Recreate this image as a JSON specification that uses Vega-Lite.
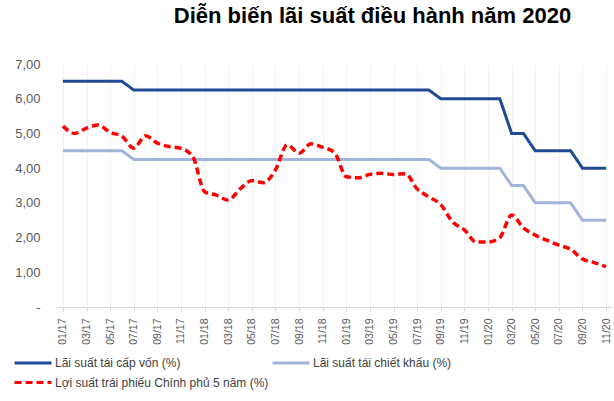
{
  "$schema": "https://vega.github.io/schema/vega-lite/v6.json",
  "autosize": {"type": "none"},
  "padding": {"left": 57, "top": 64, "right": 2, "bottom": 94},
  "width": 555,
  "height": 243,
  "background": "white",
  "config": {
    "font": "Liberation Sans",
    "view": {"stroke": null}
  },
  "title": {
    "text": "Diễn biến lãi suất điều hành năm 2020",
    "font": "Liberation Sans",
    "fontSize": 22,
    "fontWeight": "bold",
    "color": "#000000",
    "anchor": "middle",
    "dx": 38,
    "offset": 30
  },
  "data": {
    "values": [
      {"m": "01/17", "Lãi suất tái cấp vốn (%)": 6.5, "Lãi suất tái chiết khấu (%)": 4.5, "Lợi suất trái phiếu Chính phủ 5 năm (%)": 5.21},
      {"m": "02/17", "Lãi suất tái cấp vốn (%)": 6.5, "Lãi suất tái chiết khấu (%)": 4.5, "Lợi suất trái phiếu Chính phủ 5 năm (%)": 5.0},
      {"m": "03/17", "Lãi suất tái cấp vốn (%)": 6.5, "Lãi suất tái chiết khấu (%)": 4.5, "Lợi suất trái phiếu Chính phủ 5 năm (%)": 5.15},
      {"m": "04/17", "Lãi suất tái cấp vốn (%)": 6.5, "Lãi suất tái chiết khấu (%)": 4.5, "Lợi suất trái phiếu Chính phủ 5 năm (%)": 5.24},
      {"m": "05/17", "Lãi suất tái cấp vốn (%)": 6.5, "Lãi suất tái chiết khấu (%)": 4.5, "Lợi suất trái phiếu Chính phủ 5 năm (%)": 5.03},
      {"m": "06/17", "Lãi suất tái cấp vốn (%)": 6.5, "Lãi suất tái chiết khấu (%)": 4.5, "Lợi suất trái phiếu Chính phủ 5 năm (%)": 4.92},
      {"m": "07/17", "Lãi suất tái cấp vốn (%)": 6.25, "Lãi suất tái chiết khấu (%)": 4.25, "Lợi suất trái phiếu Chính phủ 5 năm (%)": 4.58},
      {"m": "08/17", "Lãi suất tái cấp vốn (%)": 6.25, "Lãi suất tái chiết khấu (%)": 4.25, "Lợi suất trái phiếu Chính phủ 5 năm (%)": 4.93},
      {"m": "09/17", "Lãi suất tái cấp vốn (%)": 6.25, "Lãi suất tái chiết khấu (%)": 4.25, "Lợi suất trái phiếu Chính phủ 5 năm (%)": 4.72},
      {"m": "10/17", "Lãi suất tái cấp vốn (%)": 6.25, "Lãi suất tái chiết khấu (%)": 4.25, "Lợi suất trái phiếu Chính phủ 5 năm (%)": 4.62},
      {"m": "11/17", "Lãi suất tái cấp vốn (%)": 6.25, "Lãi suất tái chiết khấu (%)": 4.25, "Lợi suất trái phiếu Chính phủ 5 năm (%)": 4.57},
      {"m": "12/17", "Lãi suất tái cấp vốn (%)": 6.25, "Lãi suất tái chiết khấu (%)": 4.25, "Lợi suất trái phiếu Chính phủ 5 năm (%)": 4.33},
      {"m": "01/18", "Lãi suất tái cấp vốn (%)": 6.25, "Lãi suất tái chiết khấu (%)": 4.25, "Lợi suất trái phiếu Chính phủ 5 năm (%)": 3.32},
      {"m": "02/18", "Lãi suất tái cấp vốn (%)": 6.25, "Lãi suất tái chiết khấu (%)": 4.25, "Lợi suất trái phiếu Chính phủ 5 năm (%)": 3.22},
      {"m": "03/18", "Lãi suất tái cấp vốn (%)": 6.25, "Lãi suất tái chiết khấu (%)": 4.25, "Lợi suất trái phiếu Chính phủ 5 năm (%)": 3.08},
      {"m": "04/18", "Lãi suất tái cấp vốn (%)": 6.25, "Lãi suất tái chiết khấu (%)": 4.25, "Lợi suất trái phiếu Chính phủ 5 năm (%)": 3.4},
      {"m": "05/18", "Lãi suất tái cấp vốn (%)": 6.25, "Lãi suất tái chiết khấu (%)": 4.25, "Lợi suất trái phiếu Chính phủ 5 năm (%)": 3.64},
      {"m": "06/18", "Lãi suất tái cấp vốn (%)": 6.25, "Lãi suất tái chiết khấu (%)": 4.25, "Lợi suất trái phiếu Chính phủ 5 năm (%)": 3.58},
      {"m": "07/18", "Lãi suất tái cấp vốn (%)": 6.25, "Lãi suất tái chiết khấu (%)": 4.25, "Lợi suất trái phiếu Chính phủ 5 năm (%)": 3.95},
      {"m": "08/18", "Lãi suất tái cấp vốn (%)": 6.25, "Lãi suất tái chiết khấu (%)": 4.25, "Lợi suất trái phiếu Chính phủ 5 năm (%)": 4.67},
      {"m": "09/18", "Lãi suất tái cấp vốn (%)": 6.25, "Lãi suất tái chiết khấu (%)": 4.25, "Lợi suất trái phiếu Chính phủ 5 năm (%)": 4.43},
      {"m": "10/18", "Lãi suất tái cấp vốn (%)": 6.25, "Lãi suất tái chiết khấu (%)": 4.25, "Lợi suất trái phiếu Chính phủ 5 năm (%)": 4.7},
      {"m": "11/18", "Lãi suất tái cấp vốn (%)": 6.25, "Lãi suất tái chiết khấu (%)": 4.25, "Lợi suất trái phiếu Chính phủ 5 năm (%)": 4.6},
      {"m": "12/18", "Lãi suất tái cấp vốn (%)": 6.25, "Lãi suất tái chiết khấu (%)": 4.25, "Lợi suất trái phiếu Chính phủ 5 năm (%)": 4.45},
      {"m": "01/19", "Lãi suất tái cấp vốn (%)": 6.25, "Lãi suất tái chiết khấu (%)": 4.25, "Lợi suất trái phiếu Chính phủ 5 năm (%)": 3.75},
      {"m": "02/19", "Lãi suất tái cấp vốn (%)": 6.25, "Lãi suất tái chiết khấu (%)": 4.25, "Lợi suất trái phiếu Chính phủ 5 năm (%)": 3.72},
      {"m": "03/19", "Lãi suất tái cấp vốn (%)": 6.25, "Lãi suất tái chiết khấu (%)": 4.25, "Lợi suất trái phiếu Chính phủ 5 năm (%)": 3.82},
      {"m": "04/19", "Lãi suất tái cấp vốn (%)": 6.25, "Lãi suất tái chiết khấu (%)": 4.25, "Lợi suất trái phiếu Chính phủ 5 năm (%)": 3.85},
      {"m": "05/19", "Lãi suất tái cấp vốn (%)": 6.25, "Lãi suất tái chiết khấu (%)": 4.25, "Lợi suất trái phiếu Chính phủ 5 năm (%)": 3.82},
      {"m": "06/19", "Lãi suất tái cấp vốn (%)": 6.25, "Lãi suất tái chiết khấu (%)": 4.25, "Lợi suất trái phiếu Chính phủ 5 năm (%)": 3.84},
      {"m": "07/19", "Lãi suất tái cấp vốn (%)": 6.25, "Lãi suất tái chiết khấu (%)": 4.25, "Lợi suất trái phiếu Chính phủ 5 năm (%)": 3.4},
      {"m": "08/19", "Lãi suất tái cấp vốn (%)": 6.25, "Lãi suất tái chiết khấu (%)": 4.25, "Lợi suất trái phiếu Chính phủ 5 năm (%)": 3.17},
      {"m": "09/19", "Lãi suất tái cấp vốn (%)": 6.0, "Lãi suất tái chiết khấu (%)": 4.0, "Lợi suất trái phiếu Chính phủ 5 năm (%)": 2.95},
      {"m": "10/19", "Lãi suất tái cấp vốn (%)": 6.0, "Lãi suất tái chiết khấu (%)": 4.0, "Lợi suất trái phiếu Chính phủ 5 năm (%)": 2.45},
      {"m": "11/19", "Lãi suất tái cấp vốn (%)": 6.0, "Lãi suất tái chiết khấu (%)": 4.0, "Lợi suất trái phiếu Chính phủ 5 năm (%)": 2.22},
      {"m": "12/19", "Lãi suất tái cấp vốn (%)": 6.0, "Lãi suất tái chiết khấu (%)": 4.0, "Lợi suất trái phiếu Chính phủ 5 năm (%)": 1.87},
      {"m": "01/20", "Lãi suất tái cấp vốn (%)": 6.0, "Lãi suất tái chiết khấu (%)": 4.0, "Lợi suất trái phiếu Chính phủ 5 năm (%)": 1.87},
      {"m": "02/20", "Lãi suất tái cấp vốn (%)": 6.0, "Lãi suất tái chiết khấu (%)": 4.0, "Lợi suất trái phiếu Chính phủ 5 năm (%)": 2.0},
      {"m": "03/20", "Lãi suất tái cấp vốn (%)": 5.0, "Lãi suất tái chiết khấu (%)": 3.5, "Lợi suất trái phiếu Chính phủ 5 năm (%)": 2.65},
      {"m": "04/20", "Lãi suất tái cấp vốn (%)": 5.0, "Lãi suất tái chiết khấu (%)": 3.5, "Lợi suất trái phiếu Chính phủ 5 năm (%)": 2.28},
      {"m": "05/20", "Lãi suất tái cấp vốn (%)": 4.5, "Lãi suất tái chiết khấu (%)": 3.0, "Lợi suất trái phiếu Chính phủ 5 năm (%)": 2.07},
      {"m": "06/20", "Lãi suất tái cấp vốn (%)": 4.5, "Lãi suất tái chiết khấu (%)": 3.0, "Lợi suất trái phiếu Chính phủ 5 năm (%)": 1.92},
      {"m": "07/20", "Lãi suất tái cấp vốn (%)": 4.5, "Lãi suất tái chiết khấu (%)": 3.0, "Lợi suất trái phiếu Chính phủ 5 năm (%)": 1.78},
      {"m": "08/20", "Lãi suất tái cấp vốn (%)": 4.5, "Lãi suất tái chiết khấu (%)": 3.0, "Lợi suất trái phiếu Chính phủ 5 năm (%)": 1.66},
      {"m": "09/20", "Lãi suất tái cấp vốn (%)": 4.0, "Lãi suất tái chiết khấu (%)": 2.5, "Lợi suất trái phiếu Chính phủ 5 năm (%)": 1.38},
      {"m": "10/20", "Lãi suất tái cấp vốn (%)": 4.0, "Lãi suất tái chiết khấu (%)": 2.5, "Lợi suất trái phiếu Chính phủ 5 năm (%)": 1.28},
      {"m": "11/20", "Lãi suất tái cấp vốn (%)": 4.0, "Lãi suất tái chiết khấu (%)": 2.5, "Lợi suất trái phiếu Chính phủ 5 năm (%)": 1.16}
    ]
  },
  "transform": [
    {"fold": ["Lãi suất tái cấp vốn (%)", "Lãi suất tái chiết khấu (%)", "Lợi suất trái phiếu Chính phủ 5 năm (%)"], "as": ["s", "v"]}
  ],
  "encoding": {
    "x": {
      "field": "m",
      "type": "ordinal",
      "sort": null,
      "scale": {"type": "point", "padding": 0.5},
      "axis": {
        "title": null,
        "values": ["01/17","03/17","05/17","07/17","09/17","11/17","01/18","03/18","05/18","07/18","09/18","11/18","01/19","03/19","05/19","07/19","09/19","11/19","01/20","03/20","05/20","07/20","09/20","11/20"],
        "labelAngle": -90,
        "labelFontSize": 10.5,
        "labelColor": "#595959",
        "labelPadding": 7,
        "domainColor": "#d9d9d9",
        "domainWidth": 1,
        "tickColor": "#d9d9d9",
        "tickSize": 4,
        "grid": true,
        "gridColor": "#f3f3f3",
        "gridWidth": 1
      }
    },
    "y": {
      "field": "v",
      "type": "quantitative",
      "scale": {"domain": [0, 7], "nice": false, "zero": true},
      "axis": {
        "title": null,
        "values": [0, 1, 2, 3, 4, 5, 6, 7],
        "labelExpr": "datum.value == 0 ? '-' : replace(format(datum.value, '.2f'), '.', ',')",
        "labelFontSize": 13,
        "labelColor": "#595959",
        "labelPadding": 17,
        "ticks": false,
        "domain": false,
        "grid": false
      }
    },
    "color": {
      "field": "s",
      "type": "nominal",
      "scale": {
        "domain": ["Lãi suất tái cấp vốn (%)", "Lãi suất tái chiết khấu (%)", "Lợi suất trái phiếu Chính phủ 5 năm (%)"],
        "range": ["#1f4a96", "#a3b4dc", "#ff0000"]
      },
      "legend": {
        "title": null,
        "orient": "none",
        "legendX": -35,
        "legendY": 288,
        "direction": "horizontal",
        "columns": 2,
        "columnPadding": -3,
        "rowPadding": 2.5,
        "symbolType": "M-2,0H2",
        "symbolSize": 342,
        "symbolStrokeWidth": 3,
        "symbolFillColor": "transparent",
        "labelFontSize": 12,
        "labelColor": "#404040",
        "labelOffset": 11,
        "labelLimit": 400
      }
    },
    "strokeDash": {
      "field": "s",
      "type": "nominal",
      "scale": {
        "domain": ["Lãi suất tái cấp vốn (%)", "Lãi suất tái chiết khấu (%)", "Lợi suất trái phiếu Chính phủ 5 năm (%)"],
        "range": [[1, 0], [1, 0], [7, 4]]
      },
      "legend": null
    }
  },
  "layer": [
    {
      "transform": [{"filter": "datum.s != 'Lợi suất trái phiếu Chính phủ 5 năm (%)'"}],
      "mark": {"type": "line", "strokeWidth": 3, "interpolate": "linear"}
    },
    {
      "transform": [{"filter": "datum.s == 'Lợi suất trái phiếu Chính phủ 5 năm (%)'"}],
      "mark": {"type": "line", "strokeWidth": 3.5, "interpolate": "monotone"}
    }
  ]
}
